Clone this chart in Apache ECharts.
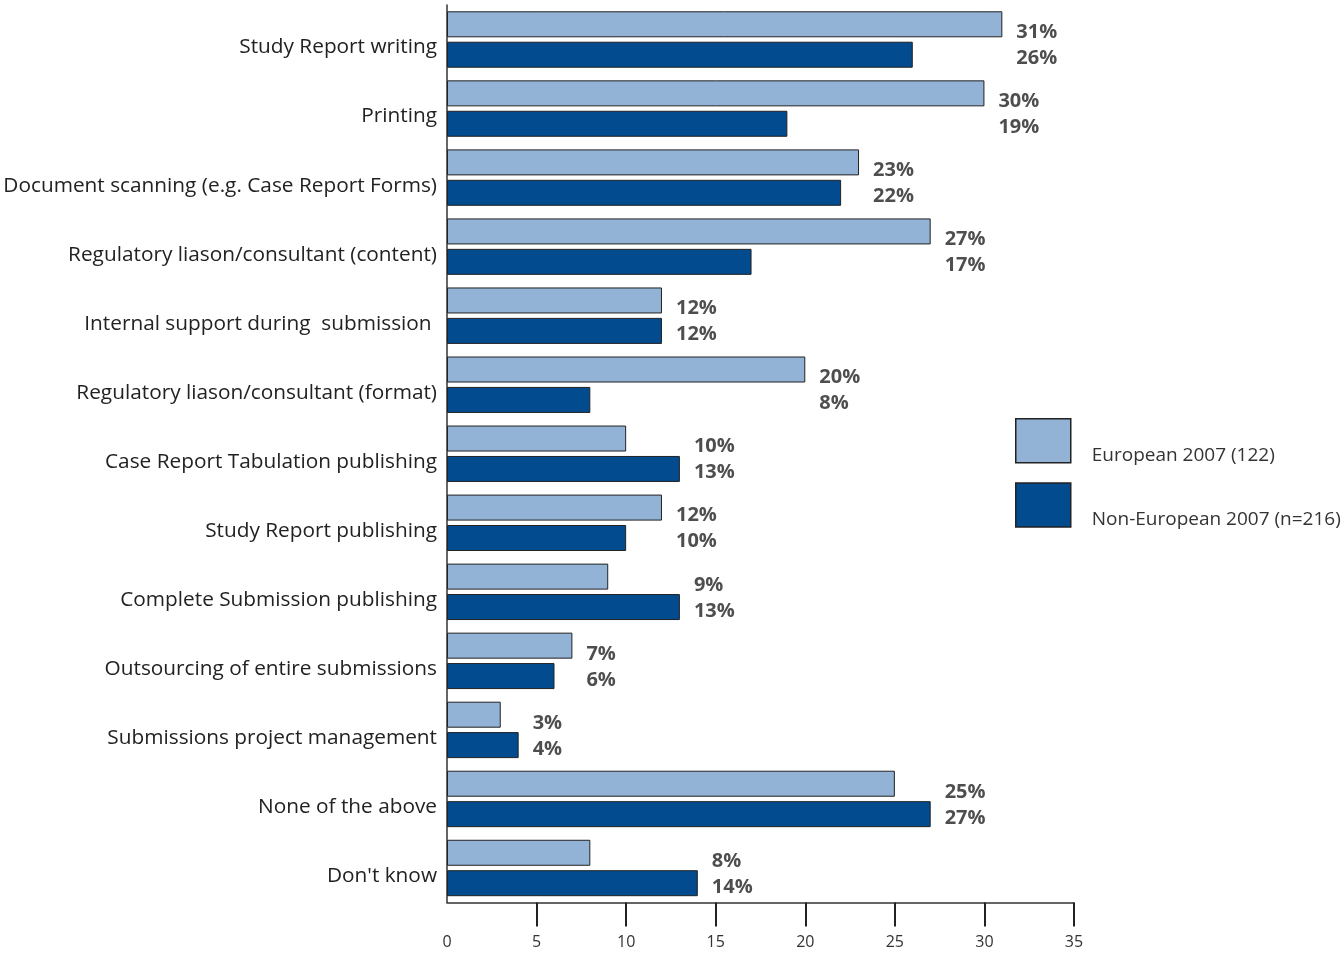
<!DOCTYPE html>
<html>
<head>
<meta charset="utf-8">
<script src="https://cdn.jsdelivr.net/npm/echarts@6/dist/echarts.min.js"></script>
<style>
  html, body { margin: 0; padding: 0; background: #ffffff; }
  #chart { width: 1344px; height: 955px; }
</style>
</head>
<body>
<div id="chart"></div>
<script>
// Outsourced submission activities, percentage of respondents
const categories = [
  'Study Report writing',
  'Printing',
  'Document scanning (e.g. Case Report Forms)',
  'Regulatory liason/consultant (content)',
  'Internal support during  submission ',
  'Regulatory liason/consultant (format)',
  'Case Report Tabulation publishing',
  'Study Report publishing',
  'Complete Submission publishing',
  'Outsourcing of entire submissions',
  'Submissions project management',
  'None of the above',
  "Don't know"
];
const european = [31, 30, 23, 27, 12, 20, 10, 12, 9, 7, 3, 25, 8];
const nonEuropean = [26, 19, 22, 17, 12, 8, 13, 10, 13, 6, 4, 27, 14];
const seriesNames = ['European 2007 (122)', 'Non-European 2007 (n=216)'];
const xTicks = [5, 10, 15, 20, 25, 30, 35];

const FONT = 'Open Sans';
const LIGHT = '#92b2d6';
const DARK = '#024b8e';

// Paired value labels sit just past the longer of the two bars
const labelAnchor = categories.map((c, i) => [Math.max(european[i], nonEuropean[i]), c, european[i], nonEuropean[i]]);

const chart = echarts.init(document.getElementById('chart'), null, { renderer: 'canvas' });
chart.setOption({
  animation: false,
  backgroundColor: '#ffffff',
  textStyle: { fontFamily: FONT },
  grid: { left: 447, right: 270, top: 5, bottom: 52.5, containLabel: false, outerBoundsMode: 'none' },
  legend: {
    orient: 'vertical',
    left: 1015,
    top: 418,
    padding: 0,
    itemWidth: 55,
    itemHeight: 44,
    itemGap: 17,
    icon: 'rect',
    data: seriesNames,
    formatter: name => '{t|' + name + '}',
    textStyle: {
      fontFamily: FONT, fontSize: 19, color: '#333333',
      rich: { t: { fontFamily: FONT, fontSize: 19, color: '#333333', padding: [30, 0, 0, 16] } }
    },
    itemStyle: { borderColor: '#222222', borderWidth: 1.5 }
  },
  xAxis: {
    type: 'value',
    min: 0,
    max: 35,
    interval: 5,
    axisLine: { show: true, lineStyle: { color: '#333333', width: 1.5 } },
    axisTick: { show: true, length: 24, customValues: xTicks, lineStyle: { color: '#222222', width: 2 } },
    axisLabel: { margin: 32, fontSize: 16, color: '#333333', fontFamily: FONT },
    splitLine: { show: false }
  },
  yAxis: {
    type: 'category',
    data: categories,
    inverse: true,
    axisLine: { show: true, lineStyle: { color: '#333333', width: 1.5 } },
    axisTick: { show: false },
    axisLabel: {
      margin: 10, fontSize: 20.8, color: '#222222', fontFamily: FONT,
      formatter: v => '{c|' + v + '}',
      rich: { c: { fontSize: 20.8, color: '#222222', fontFamily: FONT, padding: [16, 0, 0, 0] } }
    }
  },
  series: [
    {
      name: seriesNames[0],
      type: 'bar',
      data: european,
      barWidth: 26,
      barGap: '17%',
      itemStyle: { color: LIGHT, borderColor: '#222222', borderWidth: 1 }
    },
    {
      name: seriesNames[1],
      type: 'bar',
      data: nonEuropean,
      barWidth: 26,
      barGap: '17%',
      itemStyle: { color: DARK, borderColor: '#222222', borderWidth: 1 }
    },
    {
      type: 'scatter',
      data: labelAnchor,
      encode: { x: 0, y: 1 },
      symbolSize: 0,
      silent: true,
      label: {
        show: true,
        position: 'right',
        distance: 14,
        offset: [0, 6],
        fontFamily: FONT,
        fontSize: 20,
        fontWeight: 'bold',
        color: '#222222',
        lineHeight: 26,
        align: 'left',
        formatter: p => p.data[2] + '%\n' + p.data[3] + '%'
      }
    }
  ]
});
</script>
</body>
</html>
